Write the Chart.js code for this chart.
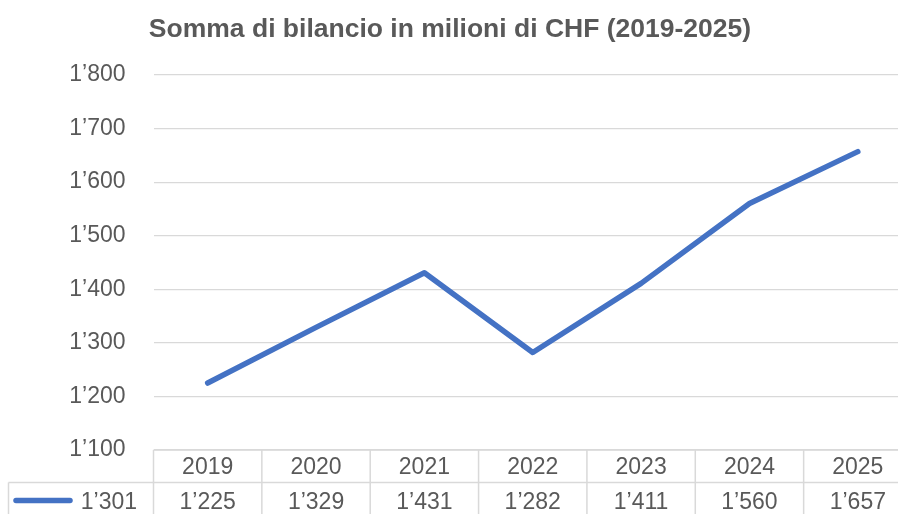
<!DOCTYPE html>
<html><head><meta charset="utf-8">
<script src="https://cdn.jsdelivr.net/npm/chart.js@4/dist/chart.umd.min.js"></script>
<style>
html,body{margin:0;padding:0;background:#fff;overflow:hidden;}
#wrap{width:898px;height:514px;overflow:hidden;position:relative;}
canvas{display:block;}
</style></head><body>
<div id="wrap"><canvas id="c" width="912" height="514"></canvas></div>
<script>
const chartTitle = 'Somma di bilancio in milioni di CHF (2019-2025)';
const categories = ['2019', '2020', '2021', '2022', '2023', '2024', '2025'];
const seriesName = '1’301';
const values = [1225, 1329, 1431, 1282, 1411, 1560, 1657];
const yMin = 1100, yMax = 1800, yStep = 100;

const FONT = '"Liberation Sans", Arial, sans-serif';
const TEXT = '#595959';
const GRID = '#d9d9d9';
const LINE = '#4472C4';

function fmt(v) {
  v = Math.round(v);
  if (v >= 1000) return Math.floor(v / 1000) + '’' + String(v % 1000).padStart(3, '0');
  return String(v);
}

const titleAndTable = {
  id: 'titleAndTable',
  afterDraw(chart) {
    const { ctx, chartArea: a, scales: { x } } = chart;
    const n = categories.length;
    const step = (a.right - a.left) / n;
    const top = a.bottom, mid = 482.5, bot = 514;
    ctx.save();
    // title
    ctx.fillStyle = TEXT;
    ctx.font = 'bold 26.5px ' + FONT;
    ctx.textAlign = 'center';
    ctx.textBaseline = 'alphabetic';
    ctx.fillText(chartTitle, 450, 37);
    // table grid
    ctx.strokeStyle = GRID;
    ctx.lineWidth = 1.5;
    ctx.beginPath();
    ctx.moveTo(a.left, top); ctx.lineTo(a.right, top);
    ctx.moveTo(8.5, mid); ctx.lineTo(a.right, mid);
    ctx.moveTo(8.5, mid); ctx.lineTo(8.5, bot);
    for (let i = 0; i <= n; i++) {
      const xx = a.left + i * step;
      ctx.moveTo(xx, top); ctx.lineTo(xx, bot);
    }
    ctx.stroke();
    // texts
    ctx.font = '23px ' + FONT;
    ctx.fillStyle = TEXT;
    ctx.textBaseline = 'middle';
    ctx.textAlign = 'center';
    categories.forEach((c, i) => {
      const cx = x.getPixelForValue(i);
      ctx.fillText(c, cx, 467.5);
      ctx.fillText(fmt(values[i]), cx, 503);
    });
    // legend key
    ctx.strokeStyle = LINE;
    ctx.lineWidth = 5.5;
    ctx.lineCap = 'round';
    ctx.beginPath();
    ctx.moveTo(16, 500.5); ctx.lineTo(70, 500.5);
    ctx.stroke();
    ctx.textAlign = 'right';
    ctx.fillText(seriesName, 137, 503);
    ctx.restore();
  }
};

new Chart(document.getElementById('c'), {
  type: 'line',
  data: {
    labels: categories,
    datasets: [{
      label: seriesName,
      data: values,
      borderColor: LINE,
      backgroundColor: LINE,
      borderWidth: 5.5,
      borderCapStyle: 'round',
      borderJoinStyle: 'round',
      pointRadius: 0,
      pointHoverRadius: 0,
      tension: 0,
      fill: false
    }]
  },
  options: {
    responsive: false,
    animation: false,
    devicePixelRatio: 1,
    events: [],
    layout: { padding: { top: 75, bottom: 64, left: 0, right: 0 } },
    plugins: { legend: { display: false }, title: { display: false }, tooltip: { enabled: false } },
    scales: {
      x: {
        type: 'category',
        offset: true,
        display: false
      },
      y: {
        min: yMin, max: yMax,
        afterFit(s) { s.width = 153.5; },
        border: { display: false },
        grid: { color: GRID, lineWidth: 1.2, drawTicks: false },
        ticks: {
          stepSize: yStep,
          padding: 28,
          color: TEXT,
          font: { family: FONT, size: 23 },
          callback: (v) => fmt(v)
        }
      }
    }
  },
  plugins: [titleAndTable]
});
</script>
</body></html>
